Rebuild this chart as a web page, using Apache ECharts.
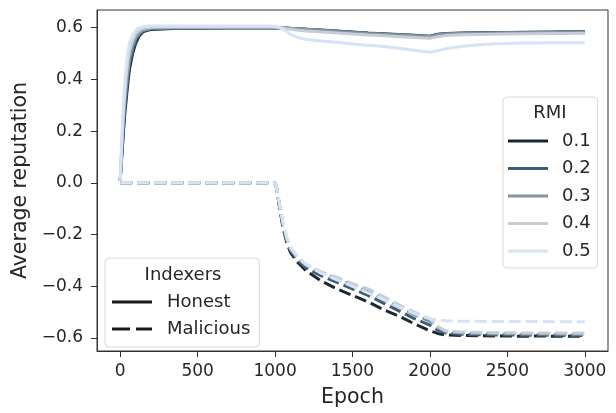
<!DOCTYPE html>
<html>
<head>
<meta charset="utf-8">
<script src="https://cdn.jsdelivr.net/npm/echarts@6/dist/echarts.min.js"></script>
<style>
  html, body { margin: 0; padding: 0; background: #fff; }
  #chart { width: 616px; height: 413px; }
</style>
</head>
<body>
<div id="chart"></div>
<script>
// epochs sampled along the curves
const epochs = [0, 10, 20, 30, 40, 50, 60, 80, 100, 125,
  150, 200, 300, 400, 500, 600, 700, 800, 900, 1000,
  1010, 1025, 1050, 1075, 1100, 1150, 1200, 1300, 1400, 1500,
  1600, 1700, 1800, 1900, 2000, 2050, 2100, 2200, 2300, 2400,
  2500, 2600, 2700, 2800, 2900, 3000];

const rmiNames = ['0.1', '0.2', '0.3', '0.4', '0.5'];
const rmiColors = ['#1e2832', '#3c5f75', '#8494a3', '#c6cdd5', '#d6e3f7'];

// honest indexers
const honest01 = [0.01, 0.10, 0.19, 0.27, 0.33, 0.39, 0.44, 0.50, 0.54, 0.57,
  0.585, 0.593, 0.596, 0.597, 0.597, 0.598, 0.598, 0.598, 0.598, 0.598,
  0.598, 0.598, 0.597, 0.597, 0.596, 0.595, 0.594, 0.590, 0.586, 0.582,
  0.578, 0.575, 0.572, 0.569, 0.566, 0.573, 0.576, 0.578, 0.579, 0.580,
  0.580, 0.581, 0.582, 0.582, 0.583, 0.583];
const honest02 = [0.01, 0.11, 0.21, 0.29, 0.35, 0.41, 0.46, 0.51, 0.55, 0.575,
  0.588, 0.595, 0.597, 0.598, 0.598, 0.598, 0.599, 0.599, 0.599, 0.599,
  0.599, 0.599, 0.598, 0.598, 0.597, 0.596, 0.594, 0.591, 0.587, 0.583,
  0.579, 0.576, 0.573, 0.570, 0.567, 0.574, 0.577, 0.579, 0.580, 0.581,
  0.581, 0.582, 0.582, 0.583, 0.584, 0.584];
const honest03 = [0.01, 0.13, 0.23, 0.31, 0.38, 0.43, 0.48, 0.53, 0.56, 0.58,
  0.59, 0.597, 0.598, 0.599, 0.599, 0.600, 0.600, 0.600, 0.600, 0.600,
  0.600, 0.600, 0.599, 0.598, 0.597, 0.596, 0.594, 0.590, 0.585, 0.581,
  0.577, 0.574, 0.571, 0.568, 0.565, 0.572, 0.575, 0.577, 0.578, 0.579,
  0.580, 0.580, 0.581, 0.581, 0.582, 0.582];
const honest04 = [0.01, 0.15, 0.26, 0.35, 0.42, 0.47, 0.51, 0.55, 0.575, 0.59,
  0.597, 0.601, 0.602, 0.602, 0.602, 0.602, 0.602, 0.602, 0.602, 0.602,
  0.601, 0.600, 0.598, 0.596, 0.594, 0.590, 0.587, 0.583, 0.579, 0.575,
  0.571, 0.568, 0.565, 0.562, 0.559, 0.565, 0.569, 0.572, 0.573, 0.574,
  0.575, 0.576, 0.576, 0.577, 0.577, 0.578];
const honest05 = [0.01, 0.18, 0.30, 0.39, 0.46, 0.51, 0.54, 0.57, 0.59, 0.60,
  0.604, 0.606, 0.606, 0.606, 0.606, 0.606, 0.606, 0.606, 0.606, 0.605,
  0.603, 0.600, 0.594, 0.585, 0.573, 0.561, 0.554, 0.548, 0.543, 0.537,
  0.532, 0.527, 0.520, 0.512, 0.505, 0.510, 0.518, 0.527, 0.533, 0.537,
  0.539, 0.540, 0.540, 0.541, 0.541, 0.541];

// malicious indexers
const malicious01 = [0, 0, 0, 0, 0, 0, 0, 0, 0, 0,
  0, 0, 0, 0, 0, 0, 0, 0, 0, 0,
  -0.02, -0.08, -0.17, -0.23, -0.27, -0.31, -0.34, -0.38, -0.41, -0.435,
  -0.46, -0.49, -0.515, -0.545, -0.572, -0.582, -0.588, -0.590, -0.591, -0.592,
  -0.592, -0.593, -0.592, -0.593, -0.593, -0.593];
const malicious02 = [0, 0, 0, 0, 0, 0, 0, 0, 0, 0,
  0, 0, 0, 0, 0, 0, 0, 0, 0, 0,
  -0.02, -0.08, -0.16, -0.22, -0.26, -0.30, -0.33, -0.36, -0.385, -0.41,
  -0.435, -0.465, -0.495, -0.525, -0.55, -0.57, -0.58, -0.585, -0.587, -0.588,
  -0.588, -0.589, -0.589, -0.589, -0.590, -0.590];
const malicious03 = [0, 0, 0, 0, 0, 0, 0, 0, 0, 0,
  0, 0, 0, 0, 0, 0, 0, 0, 0, 0,
  -0.02, -0.07, -0.16, -0.22, -0.26, -0.295, -0.32, -0.35, -0.37, -0.395,
  -0.42, -0.45, -0.48, -0.51, -0.535, -0.56, -0.575, -0.58, -0.582, -0.583,
  -0.583, -0.584, -0.584, -0.584, -0.585, -0.585];
const malicious04 = [0, 0, 0, 0, 0, 0, 0, 0, 0, 0,
  0, 0, 0, 0, 0, 0, 0, 0, 0, 0,
  -0.02, -0.07, -0.15, -0.21, -0.25, -0.29, -0.315, -0.345, -0.365, -0.39,
  -0.41, -0.44, -0.472, -0.50, -0.525, -0.555, -0.572, -0.577, -0.578, -0.579,
  -0.579, -0.580, -0.580, -0.580, -0.580, -0.581];
const malicious05 = [0, 0, 0, 0, 0, 0, 0, 0, 0, 0,
  0, 0, 0, 0, 0, 0, 0, 0, 0, 0,
  -0.02, -0.07, -0.15, -0.21, -0.25, -0.29, -0.315, -0.35, -0.375, -0.40,
  -0.425, -0.45, -0.48, -0.505, -0.525, -0.53, -0.533, -0.535, -0.535, -0.536,
  -0.536, -0.536, -0.536, -0.537, -0.537, -0.537];

const honestSeries = [honest01, honest02, honest03, honest04, honest05];
const maliciousSeries = [malicious01, malicious02, malicious03, malicious04, malicious05];

const xTicks = [0, 500, 1000, 1500, 2000, 2500, 3000];
const yTicks = [-0.6, -0.4, -0.2, 0.0, 0.2, 0.4, 0.6];

const textColor = '#262626';
const font = 'DejaVu Sans';
const solidIcon = 'path://M0,0h40v3H0z';
const dashIcon = 'path://M0,0h18v3H0zM24,0h16v3H24z';

function toPairs(values) {
  return epochs.map((e, i) => [e, values[i]]);
}

const series = [];
honestSeries.forEach((vals, i) => {
  series.push({
    name: rmiNames[i], type: 'line', data: toPairs(vals),
    showSymbol: false, symbol: 'none',
    itemStyle: { color: rmiColors[i] },
    lineStyle: { color: rmiColors[i], width: 3 }
  });
});
maliciousSeries.forEach((vals, i) => {
  series.push({
    name: rmiNames[i], type: 'line', data: toPairs(vals),
    showSymbol: false, symbol: 'none',
    itemStyle: { color: rmiColors[i] },
    lineStyle: { color: rmiColors[i], width: 3, type: [12, 5] }
  });
});
// legend-only entries for the line style
series.push({ name: 'Honest', type: 'line', data: [], itemStyle: { color: '#1a1a1a' } });
series.push({ name: 'Malicious', type: 'line', data: [], itemStyle: { color: '#1a1a1a' } });

const chart = echarts.init(document.getElementById('chart'));

const legendText = { color: textColor, fontFamily: font, fontSize: 18, lineHeight: 18 };

chart.setOption({
  backgroundColor: '#fff',
  animation: false,
  grid: {
    left: 97, right: 8, top: 10, bottom: 57,
    show: true, borderColor: '#333', borderWidth: 1
  },
  xAxis: {
    type: 'value', min: -150, max: 3150,
    name: 'Epoch', nameLocation: 'middle', nameGap: 36,
    nameTextStyle: { color: textColor, fontFamily: font, fontSize: 20.5 },
    axisLine: { show: true, onZero: false, lineStyle: { color: '#333', width: 1 } },
    axisTick: { show: true, length: 6, customValues: xTicks, lineStyle: { color: '#333' } },
    axisLabel: {
      customValues: xTicks, margin: 12, color: textColor, fontFamily: font, fontSize: 17,
      formatter: v => String(v)
    },
    splitLine: { show: false }
  },
  yAxis: {
    type: 'value', min: -0.65, max: 0.668,
    name: 'Average reputation', nameLocation: 'middle', nameGap: 64,
    nameTextStyle: { color: textColor, fontFamily: font, fontSize: 20.5 },
    axisLine: { show: true, onZero: false, lineStyle: { color: '#333', width: 1 } },
    axisTick: { show: true, length: 6, customValues: yTicks, lineStyle: { color: '#333' } },
    axisLabel: {
      customValues: yTicks, margin: 14, color: textColor, fontFamily: font, fontSize: 17,
      formatter: v => v.toFixed(1).replace('-', '\u2212')
    },
    splitLine: { show: false }
  },
  legend: [
    {
      orient: 'vertical', left: 503, top: 97,
      padding: [35, 7, 8, 5],
      itemWidth: 40, itemHeight: 18, itemGap: 9.5,
      borderColor: '#d8d8d8', borderWidth: 1, borderRadius: 4,
      backgroundColor: 'rgba(255,255,255,0.8)',
      textStyle: Object.assign({ padding: [0, 0, 0, 9] }, legendText),
      data: rmiNames.map(n => ({ name: n, icon: solidIcon }))
    },
    {
      orient: 'vertical', left: 105, top: 258,
      padding: [35, 9, 9, 7],
      itemWidth: 40, itemHeight: 18, itemGap: 9,
      borderColor: '#d8d8d8', borderWidth: 1, borderRadius: 4,
      backgroundColor: 'rgba(255,255,255,0.8)',
      textStyle: Object.assign({ padding: [0, 0, 0, 10] }, legendText),
      data: [{ name: 'Honest', icon: solidIcon }, { name: 'Malicious', icon: dashIcon }]
    }
  ],
  graphic: [
    { type: 'text', x: 550, y: 113, z: 100,
      style: { text: 'RMI', fill: textColor, font: '18px "DejaVu Sans"', textAlign: 'center', textVerticalAlign: 'middle' } },
    { type: 'text', x: 183, y: 275, z: 100,
      style: { text: 'Indexers', fill: textColor, font: '18px "DejaVu Sans"', textAlign: 'center', textVerticalAlign: 'middle' } }
  ],
  series: series
});
</script>
</body>
</html>
